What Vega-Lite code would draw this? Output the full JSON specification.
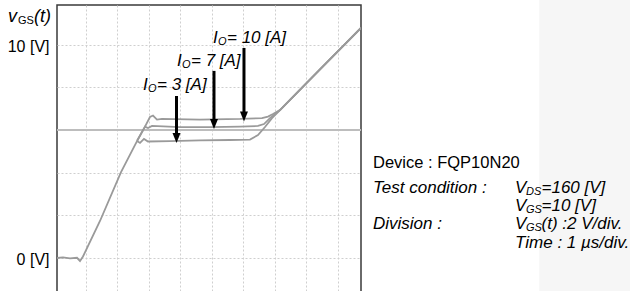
{
  "$schema": "https://vega.github.io/schema/vega-lite/v6.json",
  "width": 304,
  "height": 287,
  "autosize": {"type": "none"},
  "padding": {"left": 57, "top": 5, "right": 269, "bottom": 0},
  "background": "white",
  "config": {
    "view": {"stroke": "#3a3a3a", "strokeWidth": 1.5},
    "text": {"font": "Liberation Sans", "color": "black"},
    "axis": {"title": null}
  },
  "datasets": {
    "traces": [
      {"s": "common", "x": -0.911, "y": -0.02},
      {"s": "common", "x": -0.721, "y": 0.01},
      {"s": "common", "x": -0.498, "y": -0.04},
      {"s": "common", "x": -0.276, "y": -0.01},
      {"s": "common", "x": -0.181, "y": -0.16},
      {"s": "common", "x": -0.086, "y": 0.05},
      {"s": "common", "x": 0.454, "y": 1.72},
      {"s": "common", "x": 1.121, "y": 4.02},
      {"s": "common", "x": 1.629, "y": 5.48},
      {"s": "3A", "x": 1.629, "y": 5.48},
      {"s": "3A", "x": 1.724, "y": 5.39},
      {"s": "3A", "x": 1.851, "y": 5.58},
      {"s": "3A", "x": 1.978, "y": 5.46},
      {"s": "3A", "x": 2.676, "y": 5.48},
      {"s": "3A", "x": 3.629, "y": 5.51},
      {"s": "3A", "x": 4.581, "y": 5.53},
      {"s": "3A", "x": 5.216, "y": 5.55},
      {"s": "3A", "x": 5.47, "y": 5.76},
      {"s": "3A", "x": 5.692, "y": 6.14},
      {"s": "3A", "x": 5.914, "y": 6.56},
      {"s": "3A", "x": 6.168, "y": 6.94},
      {"s": "3A", "x": 7.438, "y": 8.85},
      {"s": "3A", "x": 8.74, "y": 10.8},
      {"s": "7A", "x": 1.629, "y": 5.48},
      {"s": "7A", "x": 1.883, "y": 6.16},
      {"s": "7A", "x": 1.978, "y": 6.09},
      {"s": "7A", "x": 2.105, "y": 6.19},
      {"s": "7A", "x": 2.994, "y": 6.14},
      {"s": "7A", "x": 3.946, "y": 6.14},
      {"s": "7A", "x": 4.898, "y": 6.16},
      {"s": "7A", "x": 5.47, "y": 6.19},
      {"s": "7A", "x": 5.66, "y": 6.28},
      {"s": "7A", "x": 5.851, "y": 6.56},
      {"s": "7A", "x": 6.168, "y": 6.94},
      {"s": "7A", "x": 7.438, "y": 8.85},
      {"s": "7A", "x": 8.74, "y": 10.8},
      {"s": "10A", "x": 1.629, "y": 5.48},
      {"s": "10A", "x": 1.883, "y": 6.16},
      {"s": "10A", "x": 2.041, "y": 6.61},
      {"s": "10A", "x": 2.137, "y": 6.68},
      {"s": "10A", "x": 2.263, "y": 6.49},
      {"s": "10A", "x": 2.422, "y": 6.52},
      {"s": "10A", "x": 3.629, "y": 6.49},
      {"s": "10A", "x": 4.898, "y": 6.52},
      {"s": "10A", "x": 5.597, "y": 6.56},
      {"s": "10A", "x": 5.787, "y": 6.63},
      {"s": "10A", "x": 5.946, "y": 6.75},
      {"s": "10A", "x": 6.168, "y": 6.94},
      {"s": "10A", "x": 7.438, "y": 8.85},
      {"s": "10A", "x": 8.74, "y": 10.8}
    ],
    "arrows": [
      {"x": 2.883, "y": 7.6, "tip": 5.39},
      {"x": 4.073, "y": 8.78, "tip": 6.05},
      {"x": 5.025, "y": 9.86, "tip": 6.4}
    ],
    "ref": [{"x": -0.911, "x2": 8.74, "y": 6}],
    "shade": [{"x": 14.4, "x2": 18, "y": 12.3, "y2": -1.8}],
    "plain": [{"x": 9.121, "y": 4.447, "t": "Device : FQP10N20"}],
    "italic": [
      {"x": 9.121, "y": 3.271, "t": "Test condition :"},
      {"x": 9.121, "y": 1.576, "t": "Division :"},
      {"x": 13.63, "y": 0.7, "t": "Time : 1 µs/div."}
    ],
    "subs": [
      {"x": 13.63, "y": 3.271, "m": "V", "s": "DS", "r": "=160 [V]"},
      {"x": 13.63, "y": 2.424, "m": "V", "s": "GS", "r": "=10 [V]"},
      {"x": 13.63, "y": 1.576, "m": "V", "s": "GS", "r": "(t) :2 V/div."}
    ],
    "io": [
      {"x": 1.819, "y": 8.12, "m": "I", "s": "O", "r": "= 3 [A]"},
      {"x": 2.898, "y": 9.25, "m": "I", "s": "O", "r": "= 7 [A]"},
      {"x": 4.041, "y": 10.33, "m": "I", "s": "O", "r": "= 10 [A]"}
    ],
    "ytitle": [{"x": -2.467, "y": 11.32, "m": "v", "s": "GS", "r": "(t)"}]
  },
  "encoding": {
    "x": {
      "field": "x", "type": "quantitative",
      "scale": {"domain": [-0.911, 8.74], "nice": false, "zero": false},
      "axis": {
        "values": [0, 1, 2, 3, 4, 5, 6, 7, 8],
        "labels": false, "ticks": false, "domain": false,
        "grid": true, "gridColor": "#cfcfcf", "gridDash": [2, 2], "gridWidth": 1
      }
    },
    "y": {
      "field": "y", "type": "quantitative",
      "scale": {"domain": [-1.62, 11.88], "nice": false, "zero": false},
      "axis": {
        "values": [0, 2, 4, 6, 8, 10],
        "labelExpr": "datum.value == 0 || datum.value == 10 ? datum.value + ' [V]' : ''",
        "labelFont": "Liberation Sans", "labelFontSize": 16, "labelColor": "black",
        "labelPadding": 8, "labelOffset": 2, "ticks": false, "domain": false,
        "grid": true, "gridColor": "#cfcfcf", "gridDash": [2, 2], "gridWidth": 1
      }
    }
  },
  "layer": [
    {
      "data": {"name": "shade"},
      "mark": {"type": "rect", "color": "#f6f6f6"},
      "encoding": {"x2": {"field": "x2"}, "y2": {"field": "y2"}}
    },
    {
      "data": {"name": "ref"},
      "mark": {"type": "rule", "color": "#bdbdbd", "strokeWidth": 2},
      "encoding": {"x2": {"field": "x2"}}
    },
    {
      "data": {"name": "traces"},
      "mark": {"type": "line", "color": "#9a9a9a", "strokeWidth": 1.8, "clip": true},
      "encoding": {"detail": {"field": "s"}}
    },
    {
      "data": {"name": "arrows"},
      "mark": {"type": "rule", "color": "black", "strokeWidth": 3, "y2Offset": -6},
      "encoding": {"y2": {"field": "tip"}}
    },
    {
      "data": {"name": "arrows"},
      "mark": {"type": "point", "shape": "M-0.4,-1L0.4,-1L0,0Z", "size": 400, "filled": true, "color": "black", "opacity": 1},
      "encoding": {"y": {"field": "tip", "type": "quantitative"}}
    },
    {
      "data": {"name": "plain"},
      "mark": {"type": "text", "align": "left", "baseline": "middle", "fontSize": 16.5},
      "encoding": {"text": {"field": "t"}}
    },
    {
      "data": {"name": "italic"},
      "mark": {"type": "text", "align": "left", "baseline": "middle", "fontSize": 17, "fontStyle": "italic"},
      "encoding": {"text": {"field": "t"}}
    },
    {
      "data": {"name": "subs"},
      "mark": {"type": "text", "align": "left", "baseline": "middle", "fontSize": 17, "fontStyle": "italic"},
      "encoding": {"text": {"field": "m"}}
    },
    {
      "data": {"name": "subs"},
      "mark": {"type": "text", "align": "left", "baseline": "middle", "fontSize": 11, "fontStyle": "italic", "dx": 11, "dy": 4},
      "encoding": {"text": {"field": "s"}}
    },
    {
      "data": {"name": "subs"},
      "mark": {"type": "text", "align": "left", "baseline": "middle", "fontSize": 17, "fontStyle": "italic", "dx": 26.5},
      "encoding": {"text": {"field": "r"}}
    },
    {
      "data": {"name": "io"},
      "mark": {"type": "text", "align": "left", "baseline": "middle", "fontSize": 17, "fontStyle": "italic"},
      "encoding": {"text": {"field": "m"}}
    },
    {
      "data": {"name": "io"},
      "mark": {"type": "text", "align": "left", "baseline": "middle", "fontSize": 11, "fontStyle": "italic", "dx": 5, "dy": 4},
      "encoding": {"text": {"field": "s"}}
    },
    {
      "data": {"name": "io"},
      "mark": {"type": "text", "align": "left", "baseline": "middle", "fontSize": 17, "fontStyle": "italic", "dx": 14},
      "encoding": {"text": {"field": "r"}}
    },
    {
      "data": {"name": "ytitle"},
      "mark": {"type": "text", "align": "left", "baseline": "middle", "fontSize": 18, "fontStyle": "italic"},
      "encoding": {"text": {"field": "m"}}
    },
    {
      "data": {"name": "ytitle"},
      "mark": {"type": "text", "align": "left", "baseline": "middle", "fontSize": 11, "dx": 10, "dy": 4},
      "encoding": {"text": {"field": "s"}}
    },
    {
      "data": {"name": "ytitle"},
      "mark": {"type": "text", "align": "left", "baseline": "middle", "fontSize": 18, "fontStyle": "italic", "dx": 26},
      "encoding": {"text": {"field": "r"}}
    }
  ]
}
